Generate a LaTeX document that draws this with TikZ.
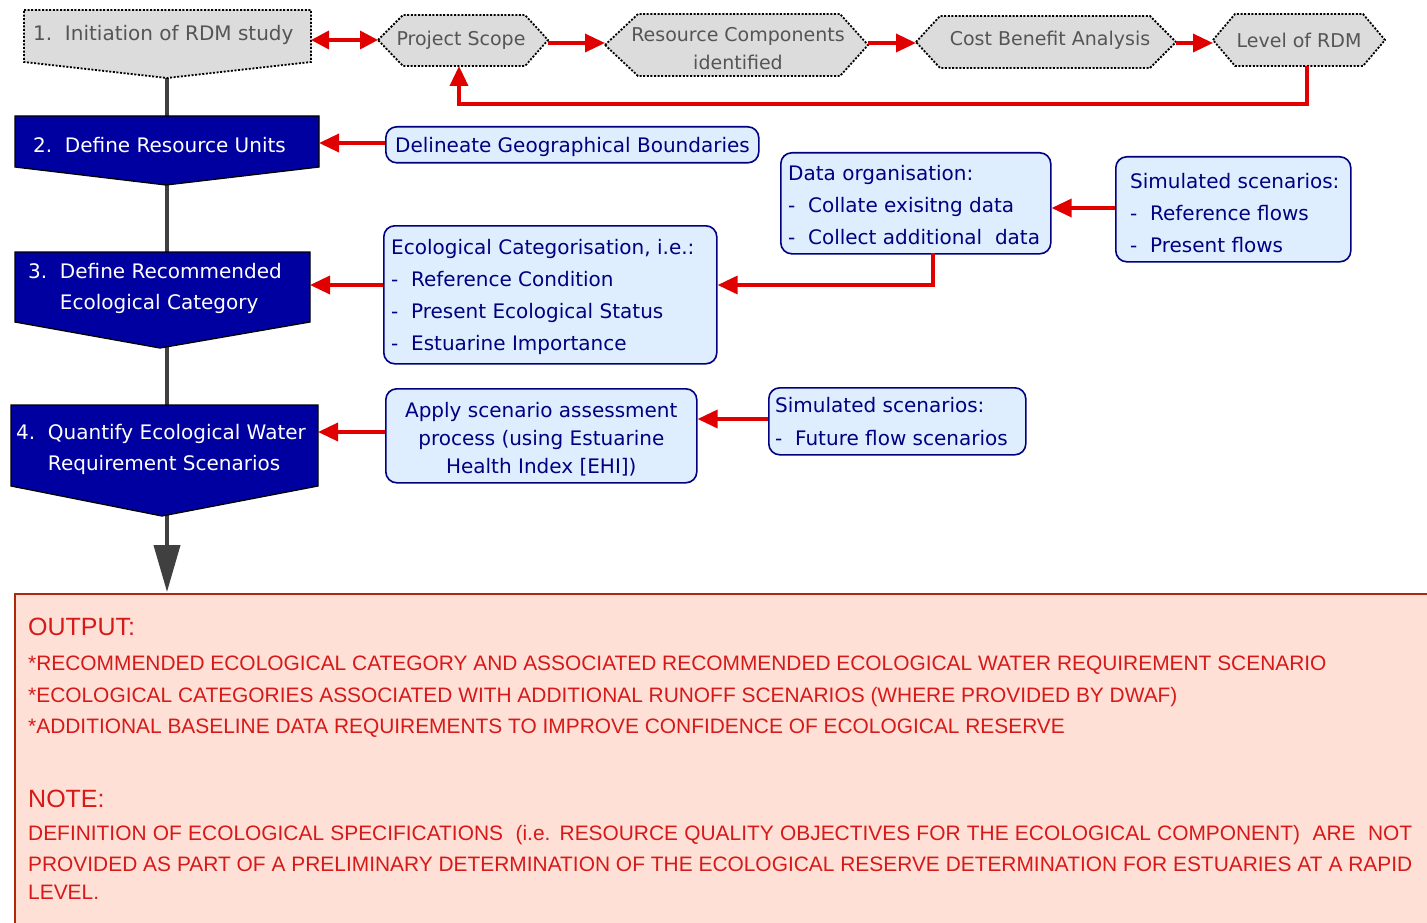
\documentclass[tikz,border=0pt]{standalone}
\usepackage{fontspec}
\setmainfont{DejaVu Sans}
\newfontfamily\outfont{Liberation Sans}
\usetikzlibrary{arrows.meta}
\definecolor{redA}{RGB}{224,0,0}
\definecolor{navyF}{RGB}{0,0,160}
\definecolor{lightB}{RGB}{222,238,255}
\definecolor{boxB}{RGB}{0,0,128}
\definecolor{grayF}{RGB}{220,220,220}
\definecolor{grayT}{RGB}{85,85,85}
\definecolor{lineG}{RGB}{64,64,64}
\definecolor{outF}{RGB}{255,224,214}
\definecolor{outB}{RGB}{176,40,10}
\definecolor{outT}{RGB}{215,25,25}
\begin{document}
\begin{tikzpicture}[x=1pt,y=-1pt,
  redarrow/.style={draw=redA, line width=3.5pt, -{Triangle[length=20pt,width=18pt]}},
  hexbox/.style={fill=grayF, draw=black, line width=1.8pt, dash pattern=on 2pt off 1.6pt},
  bluebox/.style={fill=navyF, draw=black, line width=1.3pt},
  lbox/.style={fill=lightB, draw=boxB, line width=1.6pt, rounded corners=11pt, inner sep=0pt},
  graytext/.style={text=grayT, font=\fontsize{19}{28}\selectfont, align=center, inner sep=0pt},
  whitetext/.style={text=white, font=\fontsize{20}{31}\selectfont, align=left, inner sep=0pt, anchor=west},
  btext/.style={text=boxB, font=\fontsize{20}{32}\selectfont, align=left, inner sep=0pt, anchor=west},
  otext/.style={text=outT, font=\outfont\fontsize{20.9}{24}\selectfont, inner sep=0pt, anchor=west},
  ohead/.style={text=outT, font=\outfont\fontsize{25}{28}\selectfont, inner sep=0pt, anchor=west}]
\clip (0,0) rectangle (1427,923);
\fill[white] (0,0) rectangle (1427,923);

% main gray spine
\coordinate (n1tip) at (167,78);
\coordinate (outtop) at (167,592);
\draw[lineG, line width=4pt, -{Triangle[length=47pt,width=26pt]}] (n1tip) -- (outtop);

% step 1
\draw[hexbox] (24,10) -- (311,10) -- (311,62) -- (167,78) -- (24,62) -- cycle;
\node[graytext, anchor=west, font=\fontsize{20}{28}\selectfont] (n1) at (33,35) {1.\ \ Initiation of RDM study};
\coordinate (n1E) at (311,40);

% hexagons
\draw[hexbox] (378,40) -- (403,15) -- (525,15) -- (548,40) -- (525,66) -- (403,66) -- cycle;
\node[graytext] (ps) at (461,40) {Project Scope};
\coordinate (psW) at (378,40); \coordinate (psE) at (548,43); \coordinate (psS) at (459,66);

\draw[hexbox] (605,45) -- (638,14) -- (840,14) -- (868,45) -- (840,76) -- (638,76) -- cycle;
\node[graytext] (rc) at (738,49) {Resource Components\\identified};
\coordinate (rcW) at (605,43); \coordinate (rcE) at (868,43);

\draw[hexbox] (916,42) -- (940,16) -- (1150,16) -- (1176,42) -- (1150,68) -- (940,68) -- cycle;
\node[graytext] (cba) at (1050,40) {Cost Benefit Analysis};
\coordinate (cbaW) at (916,43); \coordinate (cbaE) at (1176,43);

\draw[hexbox] (1213,40) -- (1235,14) -- (1363,14) -- (1385,40) -- (1363,66) -- (1235,66) -- cycle;
\node[graytext] (lvl) at (1299,40) {Level of RDM};
\coordinate (lvlW) at (1213,43); \coordinate (lvlS) at (1307,66);

\draw[draw=redA, line width=3.5pt, {Triangle[length=18pt,width=18pt]}-{Triangle[length=18pt,width=18pt]}] (n1E) -- (psW);
\draw[redarrow] (psE) -- (rcW);
\draw[redarrow] (rcE) -- (cbaW);
\draw[redarrow] (cbaE) -- (lvlW);
\draw[redarrow] (lvlS) |- (459,104) -- (psS);

% blue steps
\draw[bluebox] (15,116) -- (319,116) -- (319,167) -- (166,185) -- (15,167) -- cycle;
\node[whitetext] (n2) at (33,145) {2.\ \ Define Resource Units};
\coordinate (n2E) at (319,143);

\draw[bluebox] (15,252) -- (310,252) -- (310,322) -- (160,348) -- (15,322) -- cycle;
\node[whitetext] (n3) at (28,288) {3.\ \ Define Recommended\\\hphantom{3.\ \ }Ecological Category};
\coordinate (n3E) at (310,285);

\draw[bluebox] (11,405) -- (318,405) -- (318,486) -- (162,516) -- (11,486) -- cycle;
\node[whitetext] (n4) at (16,449) {4.\ \ Quantify Ecological Water\\\hphantom{4.\ \ }Requirement Scenarios};
\coordinate (n4E) at (318,432);

% light boxes
\node[lbox, minimum width=373pt, minimum height=36pt, anchor=north west] (delin) at (385,126) {};
\node[btext] at ([xshift=10pt,yshift=-2pt]delin.west) {Delineate Geographical Boundaries};

\node[lbox, minimum width=270pt, minimum height=101pt, anchor=north west] (dorg) at (780,152) {};
\node[btext] at ([xshift=8pt,yshift=-2pt]dorg.west) {Data organisation:\\-\ \ Collate exisitng data\\-\ \ Collect additional\ \ data};

\node[lbox, minimum width=235pt, minimum height=105pt, anchor=north west] (sim1) at (1115,156) {};
\node[btext] at ([xshift=15pt,yshift=-4pt]sim1.west) {Simulated scenarios:\\-\ \ Reference flows\\-\ \ Present flows};

\node[lbox, minimum width=333pt, minimum height=138pt, anchor=north west] (eco) at (383,225) {};
\node[btext] at ([xshift=8pt,yshift=-2pt]eco.west) {Ecological Categorisation, i.e.:\\-\ \ Reference Condition\\-\ \ Present Ecological Status\\-\ \ Estuarine Importance};

\node[lbox, minimum width=311pt, minimum height=94pt, anchor=north west] (apply) at (385,388) {};
\node[text=boxB, font=\fontsize{20}{28}\selectfont, align=center, inner sep=0pt] at ([yshift=-3pt]apply.center) {Apply scenario assessment\\process (using Estuarine\\Health Index [EHI])};

\node[lbox, minimum width=257pt, minimum height=67pt, anchor=north west] (sim2) at (768,387) {};
\node[btext, font=\fontsize{20}{33}\selectfont] at ([xshift=7pt,yshift=0pt]sim2.west) {Simulated scenarios:\\-\ \ Future flow scenarios};

% red connectors
\draw[redarrow] (delin.west |- n2E) -- (n2E);
\draw[redarrow] (sim1.west |- 0,208) -- (dorg.east |- 0,208);
\draw[redarrow] (933,253) |- (eco.east |- 0,285);
\draw[redarrow] (eco.west |- n3E) -- (n3E);
\draw[redarrow] (sim2.west |- 0,419) -- (apply.east |- 0,419);
\draw[redarrow] (apply.west |- n4E) -- (n4E);

% output box
\draw[fill=outF, draw=outB, line width=1.5pt] (15,594) rectangle (1445,945);
\node[ohead] (outh) at (28,627) {OUTPUT:};
\node[otext] (o1) at (28,665) {*RECOMMENDED ECOLOGICAL CATEGORY AND ASSOCIATED RECOMMENDED ECOLOGICAL WATER REQUIREMENT SCENARIO};
\node[otext] (o2) at (28,697) {*ECOLOGICAL CATEGORIES ASSOCIATED WITH ADDITIONAL RUNOFF SCENARIOS (WHERE PROVIDED BY DWAF)};
\node[otext] (o3) at (28,728) {*ADDITIONAL BASELINE DATA REQUIREMENTS TO IMPROVE CONFIDENCE OF ECOLOGICAL RESERVE};
\node[ohead] (noteh) at (28,799) {NOTE:};
\node[otext] (t1) at (28,835) {\makebox[1384pt][s]{DEFINITION OF ECOLOGICAL SPECIFICATIONS \ (i.e. RESOURCE QUALITY OBJECTIVES FOR THE ECOLOGICAL COMPONENT) \ ARE \ NOT}};
\node[otext] (t2) at (28,864) {\makebox[1384pt][s]{PROVIDED AS PART OF A PRELIMINARY DETERMINATION OF THE ECOLOGICAL RESERVE DETERMINATION FOR ESTUARIES AT A RAPID}};
\node[otext] (t3) at (28,892) {LEVEL.};
\end{tikzpicture}
\end{document}
